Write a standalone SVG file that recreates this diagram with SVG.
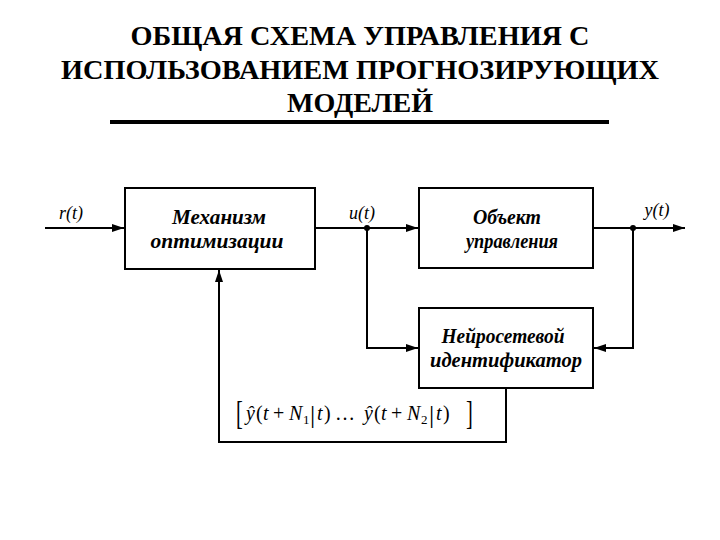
<svg xmlns="http://www.w3.org/2000/svg" width="720" height="540" viewBox="0 0 720 540">
<defs>
<marker id="arr" viewBox="0 0 12 8" refX="12" refY="4" markerWidth="12" markerHeight="8" markerUnits="userSpaceOnUse" orient="auto">
<path d="M0,0 L12,4 L0,8 Z" fill="#000"/>
</marker>
<style>
text{font-family:"Liberation Serif","Times New Roman","DejaVu Serif",serif;fill:#000}
.title{font-weight:bold;font-size:27px;text-anchor:middle}
.box{fill:#fff;stroke:#000;stroke-width:2}
.nt{font-weight:bold;font-style:italic;font-size:21px;text-anchor:middle}
.lbl{font-style:italic;font-size:18px;text-anchor:middle}
.ln{fill:none;stroke:#000;stroke-width:2}
.m{font-size:20px}
.mi{font-style:italic;font-size:20px}
.sub{font-size:13px}
.bar{font-size:26px}
.br{font-size:34px}
</style>
</defs>
<rect width="720" height="540" fill="#fff"/>
<g id="title">
<text class="title" x="360" y="45" textLength="459" lengthAdjust="spacingAndGlyphs">ОБЩАЯ СХЕМА УПРАВЛЕНИЯ С</text>
<text class="title" x="360" y="79" textLength="598" lengthAdjust="spacingAndGlyphs">ИСПОЛЬЗОВАНИЕМ ПРОГНОЗИРУЮЩИХ</text>
<text class="title" x="360" y="112" textLength="146" lengthAdjust="spacingAndGlyphs">МОДЕЛЕЙ</text>
<rect x="110" y="120" width="499" height="4" fill="#000"/>
</g>
<g id="connectors">
<line class="ln" x1="45" y1="228" x2="124" y2="228" marker-end="url(#arr)"/>
<line class="ln" x1="316" y1="228" x2="418" y2="228" marker-end="url(#arr)"/>
<line class="ln" x1="593" y1="228" x2="685" y2="228" marker-end="url(#arr)"/>
<polyline class="ln" points="367,228 367,348 418,348" marker-end="url(#arr)"/>
<polyline class="ln" points="633,228 633,348 594,348" marker-end="url(#arr)"/>
<polyline class="ln" points="506,388 506,442 219,442 219,270" marker-end="url(#arr)"/>
<circle cx="367" cy="228" r="3" fill="#000"/>
<circle cx="633" cy="228" r="3" fill="#000"/>
<text class="lbl" x="71" y="219">r(t)</text>
<text class="lbl" x="362" y="219">u(t)</text>
<text class="lbl" x="657" y="216">y(t)</text>
<g id="formula">
<text class="br" x="236" y="424" transform="translate(236,424) scale(0.6,1) translate(-236,-424)">[</text>
<text class="mi" x="246" y="420">ŷ</text>
<text class="m" x="256" y="420">(</text>
<text class="mi" x="263" y="420">t</text>
<text class="m" x="273" y="420">+</text>
<text class="mi" x="289" y="420">N</text>
<text class="sub" x="303" y="424">1</text>
<text class="bar" x="310" y="423">|</text>
<text class="mi" x="317" y="420">t</text>
<text class="m" x="324" y="420">)</text>
<text class="m" x="335" y="420">…</text>
<text class="mi" x="364" y="420">ŷ</text>
<text class="m" x="374" y="420">(</text>
<text class="mi" x="381" y="420">t</text>
<text class="m" x="391" y="420">+</text>
<text class="mi" x="407" y="420">N</text>
<text class="sub" x="421" y="424">2</text>
<text class="bar" x="429" y="423">|</text>
<text class="mi" x="436" y="420">t</text>
<text class="m" x="443" y="420">)</text>
<text class="br" x="466" y="424" transform="translate(466,424) scale(0.6,1) translate(-466,-424)">]</text>
</g>
</g>
<g id="node-optimizer">
<rect class="box" x="125" y="188" width="190" height="81"/>
<text class="nt" x="219" y="224" textLength="94" lengthAdjust="spacingAndGlyphs">Механизм</text>
<text class="nt" x="217" y="248" textLength="133" lengthAdjust="spacingAndGlyphs">оптимизации</text>
</g>
<g id="node-plant">
<rect class="box" x="419" y="188" width="174" height="80"/>
<text class="nt" x="507" y="224" textLength="68" lengthAdjust="spacingAndGlyphs">Объект</text>
<text class="nt" x="512" y="248" textLength="92" lengthAdjust="spacingAndGlyphs">управления</text>
</g>
<g id="node-identifier">
<rect class="box" x="419" y="308" width="174" height="80"/>
<text class="nt" x="503" y="343" textLength="123" lengthAdjust="spacingAndGlyphs">Нейросетевой</text>
<text class="nt" x="506" y="367" textLength="152" lengthAdjust="spacingAndGlyphs">идентификатор</text>
</g>
</svg>
